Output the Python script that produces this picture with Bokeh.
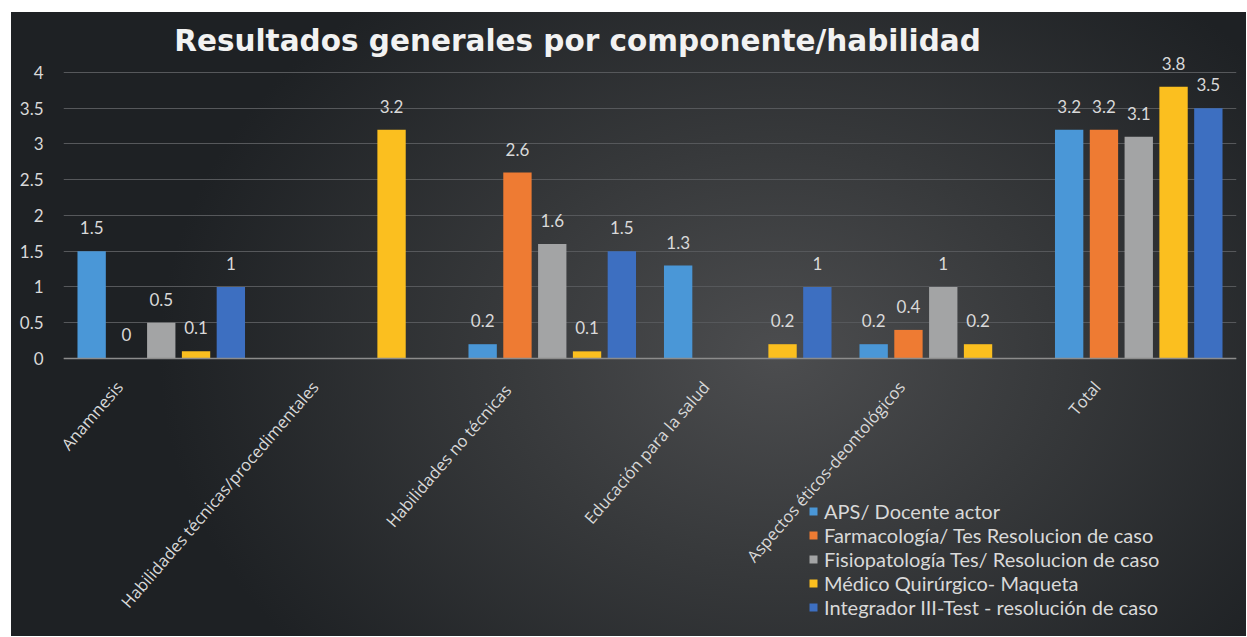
from bokeh.plotting import figure
from bokeh.models import ColumnDataSource, FactorRange, Label, Legend, LegendItem, Span
from bokeh.transform import dodge
from bokeh.embed import file_html
from bokeh.resources import INLINE
from bokeh.core.properties import value

categories = ["Anamnesis", "Habilidades técnicas/procedimentales", "Habilidades no  técnicas",
              "Educación para la salud", "Aspectos éticos-deontológicos", "Total"]
series_names = ["APS/ Docente actor", "Farmacología/ Tes Resolucion de caso",
                "Fisiopatología Tes/ Resolucion de caso", "Médico Quirúrgico- Maqueta",
                "Integrador III-Test - resolución de caso"]
nan = float("nan")
aps = [1.5, nan, 0.2, 1.3, 0.2, 3.2]
farmacologia = [0, nan, 2.6, nan, 0.4, 3.2]
fisiopatologia = [0.5, nan, 1.6, nan, 1, 3.1]
medico = [0.1, 3.2, 0.1, 0.2, 0.2, 3.8]
integrador = [1, nan, 1.5, 1, nan, 3.5]
series_values = [aps, farmacologia, fisiopatologia, medico, integrador]
colors = ["#4a97d7", "#ee7b33", "#a3a4a5", "#fbbf1f", "#3d6fc1"]
y_ticks = [0, 0.5, 1, 1.5, 2, 2.5, 3, 3.5, 4]

# frame spans the whole canvas height; 0..4 sits where the reference has it
p = figure(x_range=FactorRange(*categories), y_range=(-3.888, 4.839), width=1235, height=624,
           output_backend="svg", toolbar_location=None, x_axis_location=None,
           min_border_left=52, min_border_right=10, min_border_top=0, min_border_bottom=0)
p.margin = (12, 0, 0, 11)
p.styles = {"background": "radial-gradient(ellipse 50% 75% at 62% 55%, #4c4d4f 0%, #37393b 45%, #1e2124 100%)"}
p.background_fill_alpha = 0
p.border_fill_alpha = 0
p.outline_line_color = None

pitch = 0.178
offsets = [-2 * pitch, -pitch, 0, pitch, 2 * pitch]
items = []
for name, vals, col, off in zip(series_names, series_values, colors, offsets):
    labels = ["" if (v != v) else f"{v:g}" for v in vals]
    src = ColumnDataSource(dict(cat=categories, val=vals, lab=labels))
    r = p.vbar(x=dodge("cat", off, range=p.x_range), top="val", bottom=0, width=0.145, source=src,
               fill_color=col, line_color=None)
    p.text(x=dodge("cat", off, range=p.x_range), y="val", text="lab", source=src,
           text_align="center", text_baseline="bottom", y_offset=-17,
           text_color="#d9d9d9", text_font=value("Lato"), text_font_size="17px")
    items.append(LegendItem(label=name, renderers=[r]))

# category labels along the baseline
cat_src = ColumnDataSource(dict(cat=categories, base=[0] * len(categories)))
p.text(x="cat", y="base", text="cat", source=cat_src, angle=0.86,
       text_align="right", text_baseline="middle", x_offset=-42, y_offset=25,
       text_color="#d9d9d9", text_font=value("Open Sans"), text_font_size="16.5px")

p.add_layout(Span(location=0, dimension="width", line_color="#8c8c8c", line_width=1.5))

legend = Legend(items=items, location=(745, 17), padding=0, margin=0, spacing=0,
                label_height=23, glyph_height=10, glyph_width=10, label_standoff=6,
                background_fill_alpha=0, border_line_color=None,
                label_text_color="#d9d9d9", label_text_font="Lato", label_text_font_size="20px")
p.add_layout(legend, "center")

p.ygrid.grid_line_color = "#56585b"
p.ygrid.grid_line_width = 1
p.xgrid.grid_line_color = None
p.yaxis.ticker = y_ticks
p.yaxis.axis_line_color = None
p.yaxis.major_tick_line_color = None
p.yaxis.minor_tick_line_color = None
p.yaxis.major_label_standoff = 14
p.yaxis.major_label_text_color = "#d9d9d9"
p.yaxis.major_label_text_font = "Lato"
p.yaxis.major_label_text_font_size = "17px"

title = Label(x=514, y=596, x_units="screen", y_units="screen",
              text="Resultados generales por componente/habilidad",
              text_align="center", text_baseline="middle", text_color="#f2f2f2",
              text_font="DejaVu Sans", text_font_style="bold", text_font_size="29.5px")
p.add_layout(title)

open("out.html", "w").write(file_html(p, INLINE))
